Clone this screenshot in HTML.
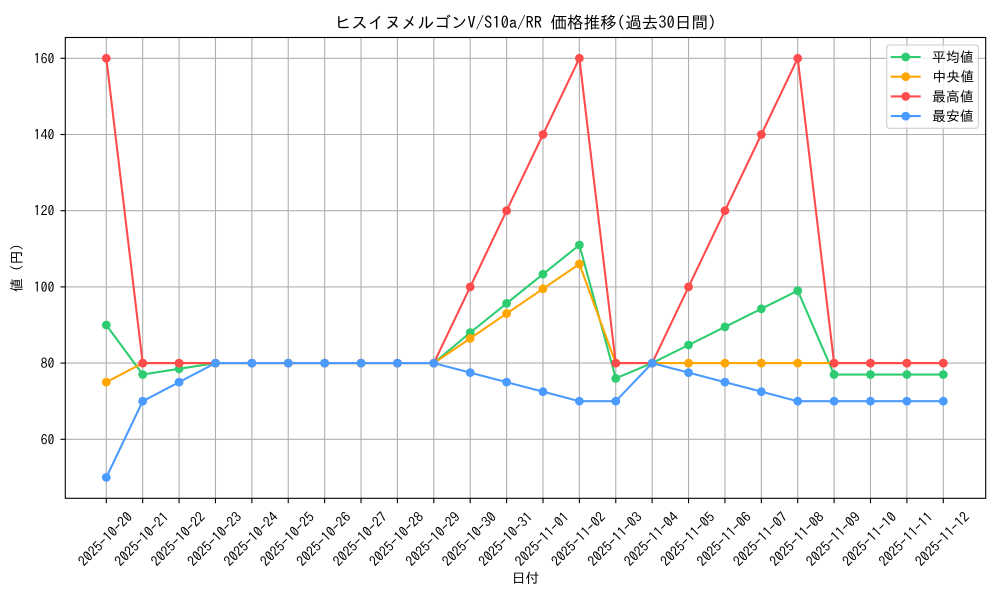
<!DOCTYPE html>
<html>
<head>
<meta charset="utf-8">
<style>
html,body{margin:0;padding:0;background:#fff;}
svg{display:block;}
text{font-family:"IPAGothic","Liberation Sans","Noto Sans CJK JP",sans-serif;fill:#000;}
</style>
</head>
<body>
<svg width="1000" height="600" viewBox="0 0 1000 600" xmlns="http://www.w3.org/2000/svg">
<defs>
<marker id="mg" markerWidth="12" markerHeight="12" refX="6" refY="6" markerUnits="userSpaceOnUse"><circle cx="6" cy="6" r="4.4" fill="#2ecc71"/></marker>
<marker id="mo" markerWidth="12" markerHeight="12" refX="6" refY="6" markerUnits="userSpaceOnUse"><circle cx="6" cy="6" r="4.4" fill="#ffa500"/></marker>
<marker id="mr" markerWidth="12" markerHeight="12" refX="6" refY="6" markerUnits="userSpaceOnUse"><circle cx="6" cy="6" r="4.4" fill="#ff4b4b"/></marker>
<marker id="mb" markerWidth="12" markerHeight="12" refX="6" refY="6" markerUnits="userSpaceOnUse"><circle cx="6" cy="6" r="4.4" fill="#4b9bff"/></marker>
</defs>
<rect x="0" y="0" width="1000" height="600" fill="#fff"/>

<text x="525.5" y="28.5" font-size="16.6" text-anchor="middle">ヒスイヌメルゴンV/S10a/RR 価格推移(過去30日間)</text>

<g stroke="#b0b0b0" stroke-width="1.1">
<line x1="106.3" y1="37.5" x2="106.3" y2="498.3"/>
<line x1="142.69" y1="37.5" x2="142.69" y2="498.3"/>
<line x1="179.08" y1="37.5" x2="179.08" y2="498.3"/>
<line x1="215.47" y1="37.5" x2="215.47" y2="498.3"/>
<line x1="251.86" y1="37.5" x2="251.86" y2="498.3"/>
<line x1="288.25" y1="37.5" x2="288.25" y2="498.3"/>
<line x1="324.64" y1="37.5" x2="324.64" y2="498.3"/>
<line x1="361.03" y1="37.5" x2="361.03" y2="498.3"/>
<line x1="397.42" y1="37.5" x2="397.42" y2="498.3"/>
<line x1="433.81" y1="37.5" x2="433.81" y2="498.3"/>
<line x1="470.2" y1="37.5" x2="470.2" y2="498.3"/>
<line x1="506.59" y1="37.5" x2="506.59" y2="498.3"/>
<line x1="542.98" y1="37.5" x2="542.98" y2="498.3"/>
<line x1="579.37" y1="37.5" x2="579.37" y2="498.3"/>
<line x1="615.76" y1="37.5" x2="615.76" y2="498.3"/>
<line x1="652.15" y1="37.5" x2="652.15" y2="498.3"/>
<line x1="688.54" y1="37.5" x2="688.54" y2="498.3"/>
<line x1="724.93" y1="37.5" x2="724.93" y2="498.3"/>
<line x1="761.32" y1="37.5" x2="761.32" y2="498.3"/>
<line x1="797.71" y1="37.5" x2="797.71" y2="498.3"/>
<line x1="834.1" y1="37.5" x2="834.1" y2="498.3"/>
<line x1="870.49" y1="37.5" x2="870.49" y2="498.3"/>
<line x1="906.88" y1="37.5" x2="906.88" y2="498.3"/>
<line x1="943.27" y1="37.5" x2="943.27" y2="498.3"/>
<line x1="65.3" y1="439.3" x2="985.7" y2="439.3"/>
<line x1="65.3" y1="363.1" x2="985.7" y2="363.1"/>
<line x1="65.3" y1="286.9" x2="985.7" y2="286.9"/>
<line x1="65.3" y1="210.7" x2="985.7" y2="210.7"/>
<line x1="65.3" y1="134.5" x2="985.7" y2="134.5"/>
<line x1="65.3" y1="58.3" x2="985.7" y2="58.3"/>
</g>

<g fill="none" stroke-width="2.08" stroke-linejoin="round">
<polyline stroke="#2ecc71" marker-start="url(#mg)" marker-mid="url(#mg)" marker-end="url(#mg)" points="106.3,325.0 142.69,374.53 179.08,368.815 215.47,363.1 251.86,363.1 288.25,363.1 324.64,363.1 361.03,363.1 397.42,363.1 433.81,363.1 470.2,332.62 506.59,303.4 542.98,274.2 579.37,245.0 615.76,378.34 652.15,363.1 688.54,345.0 724.93,326.9 761.32,308.8 797.71,290.71 834.1,374.53 870.49,374.53 906.88,374.53 943.27,374.53"/>
<polyline stroke="#ffa500" marker-start="url(#mo)" marker-mid="url(#mo)" marker-end="url(#mo)" points="106.3,382.15 142.69,363.1 179.08,363.1 215.47,363.1 251.86,363.1 288.25,363.1 324.64,363.1 361.03,363.1 397.42,363.1 433.81,363.1 470.2,338.34 506.59,313.57 542.98,288.8 579.37,264.04 615.76,363.1 652.15,363.1 688.54,363.1 724.93,363.1 761.32,363.1 797.71,363.1 834.1,363.1 870.49,363.1 906.88,363.1 943.27,363.1"/>
<polyline stroke="#ff4b4b" marker-start="url(#mr)" marker-mid="url(#mr)" marker-end="url(#mr)" points="106.3,58.3 142.69,363.1 179.08,363.1 215.47,363.1 251.86,363.1 288.25,363.1 324.64,363.1 361.03,363.1 397.42,363.1 433.81,363.1 470.2,286.9 506.59,210.7 542.98,134.5 579.37,58.3 615.76,363.1 652.15,363.1 688.54,286.9 724.93,210.7 761.32,134.5 797.71,58.3 834.1,363.1 870.49,363.1 906.88,363.1 943.27,363.1"/>
<polyline stroke="#4b9bff" marker-start="url(#mb)" marker-mid="url(#mb)" marker-end="url(#mb)" points="106.3,477.4 142.69,401.2 179.08,382.15 215.47,363.1 251.86,363.1 288.25,363.1 324.64,363.1 361.03,363.1 397.42,363.1 433.81,363.1 470.2,372.63 506.59,382.15 542.98,391.68 579.37,401.2 615.76,401.2 652.15,363.1 688.54,372.63 724.93,382.15 761.32,391.68 797.71,401.2 834.1,401.2 870.49,401.2 906.88,401.2 943.27,401.2"/>
</g>

<rect x="65.3" y="37.5" width="920.4" height="460.8" fill="none" stroke="#000" stroke-width="1.1"/>

<g stroke="#000" stroke-width="1.1">
<line x1="106.3" y1="498.3" x2="106.3" y2="503.2"/>
<line x1="142.69" y1="498.3" x2="142.69" y2="503.2"/>
<line x1="179.08" y1="498.3" x2="179.08" y2="503.2"/>
<line x1="215.47" y1="498.3" x2="215.47" y2="503.2"/>
<line x1="251.86" y1="498.3" x2="251.86" y2="503.2"/>
<line x1="288.25" y1="498.3" x2="288.25" y2="503.2"/>
<line x1="324.64" y1="498.3" x2="324.64" y2="503.2"/>
<line x1="361.03" y1="498.3" x2="361.03" y2="503.2"/>
<line x1="397.42" y1="498.3" x2="397.42" y2="503.2"/>
<line x1="433.81" y1="498.3" x2="433.81" y2="503.2"/>
<line x1="470.2" y1="498.3" x2="470.2" y2="503.2"/>
<line x1="506.59" y1="498.3" x2="506.59" y2="503.2"/>
<line x1="542.98" y1="498.3" x2="542.98" y2="503.2"/>
<line x1="579.37" y1="498.3" x2="579.37" y2="503.2"/>
<line x1="615.76" y1="498.3" x2="615.76" y2="503.2"/>
<line x1="652.15" y1="498.3" x2="652.15" y2="503.2"/>
<line x1="688.54" y1="498.3" x2="688.54" y2="503.2"/>
<line x1="724.93" y1="498.3" x2="724.93" y2="503.2"/>
<line x1="761.32" y1="498.3" x2="761.32" y2="503.2"/>
<line x1="797.71" y1="498.3" x2="797.71" y2="503.2"/>
<line x1="834.1" y1="498.3" x2="834.1" y2="503.2"/>
<line x1="870.49" y1="498.3" x2="870.49" y2="503.2"/>
<line x1="906.88" y1="498.3" x2="906.88" y2="503.2"/>
<line x1="943.27" y1="498.3" x2="943.27" y2="503.2"/>
<line x1="60.4" y1="439.3" x2="65.3" y2="439.3"/>
<line x1="60.4" y1="363.1" x2="65.3" y2="363.1"/>
<line x1="60.4" y1="286.9" x2="65.3" y2="286.9"/>
<line x1="60.4" y1="210.7" x2="65.3" y2="210.7"/>
<line x1="60.4" y1="134.5" x2="65.3" y2="134.5"/>
<line x1="60.4" y1="58.3" x2="65.3" y2="58.3"/>
</g>

<g font-size="13.9" text-anchor="end" dominant-baseline="central">
<text x="54.5" y="439.3">60</text>
<text x="54.5" y="363.1">80</text>
<text x="54.5" y="286.9">100</text>
<text x="54.5" y="210.7">120</text>
<text x="54.5" y="134.5">140</text>
<text x="54.5" y="58.3">160</text>
</g>

<g font-size="13.9" text-anchor="middle" dominant-baseline="central">
<text x="105.3" y="539" transform="rotate(-45 105.3 539)">2025-10-20</text>
<text x="141.69" y="539" transform="rotate(-45 141.69 539)">2025-10-21</text>
<text x="178.08" y="539" transform="rotate(-45 178.08 539)">2025-10-22</text>
<text x="214.47" y="539" transform="rotate(-45 214.47 539)">2025-10-23</text>
<text x="250.86" y="539" transform="rotate(-45 250.86 539)">2025-10-24</text>
<text x="287.25" y="539" transform="rotate(-45 287.25 539)">2025-10-25</text>
<text x="323.64" y="539" transform="rotate(-45 323.64 539)">2025-10-26</text>
<text x="360.03" y="539" transform="rotate(-45 360.03 539)">2025-10-27</text>
<text x="396.42" y="539" transform="rotate(-45 396.42 539)">2025-10-28</text>
<text x="432.81" y="539" transform="rotate(-45 432.81 539)">2025-10-29</text>
<text x="469.2" y="539" transform="rotate(-45 469.2 539)">2025-10-30</text>
<text x="505.59" y="539" transform="rotate(-45 505.59 539)">2025-10-31</text>
<text x="541.98" y="539" transform="rotate(-45 541.98 539)">2025-11-01</text>
<text x="578.37" y="539" transform="rotate(-45 578.37 539)">2025-11-02</text>
<text x="614.76" y="539" transform="rotate(-45 614.76 539)">2025-11-03</text>
<text x="651.15" y="539" transform="rotate(-45 651.15 539)">2025-11-04</text>
<text x="687.54" y="539" transform="rotate(-45 687.54 539)">2025-11-05</text>
<text x="723.93" y="539" transform="rotate(-45 723.93 539)">2025-11-06</text>
<text x="760.32" y="539" transform="rotate(-45 760.32 539)">2025-11-07</text>
<text x="796.71" y="539" transform="rotate(-45 796.71 539)">2025-11-08</text>
<text x="833.1" y="539" transform="rotate(-45 833.1 539)">2025-11-09</text>
<text x="869.49" y="539" transform="rotate(-45 869.49 539)">2025-11-10</text>
<text x="905.88" y="539" transform="rotate(-45 905.88 539)">2025-11-11</text>
<text x="942.27" y="539" transform="rotate(-45 942.27 539)">2025-11-12</text>
</g>

<text x="525.5" y="583" font-size="13.9" text-anchor="middle">日付</text>
<text x="16.7" y="268" font-size="13.9" text-anchor="middle" dominant-baseline="central" transform="rotate(-90 16.7 268)">値 (円)</text>

<rect x="886.7" y="45" width="91.6" height="83.3" rx="2.8" ry="2.8" fill="#fff" fill-opacity="0.8" stroke="#cccccc" stroke-width="1.1"/>
<g stroke-width="2.08">
<line x1="890.7" y1="57" x2="920.7" y2="57" stroke="#2ecc71"/>
<circle cx="905.7" cy="57" r="4.4" fill="#2ecc71"/>
<line x1="890.7" y1="76.7" x2="920.7" y2="76.7" stroke="#ffa500"/>
<circle cx="905.7" cy="76.7" r="4.4" fill="#ffa500"/>
<line x1="890.7" y1="96.4" x2="920.7" y2="96.4" stroke="#ff4b4b"/>
<circle cx="905.7" cy="96.4" r="4.4" fill="#ff4b4b"/>
<line x1="890.7" y1="116.1" x2="920.7" y2="116.1" stroke="#4b9bff"/>
<circle cx="905.7" cy="116.1" r="4.4" fill="#4b9bff"/>
</g>
<g font-size="13.9" dominant-baseline="central">
<text x="932" y="57">平均値</text>
<text x="932.5" y="76.7">中央値</text>
<text x="932" y="96.4">最高値</text>
<text x="932" y="116.1">最安値</text>
</g>
</svg>
</body>
</html>
